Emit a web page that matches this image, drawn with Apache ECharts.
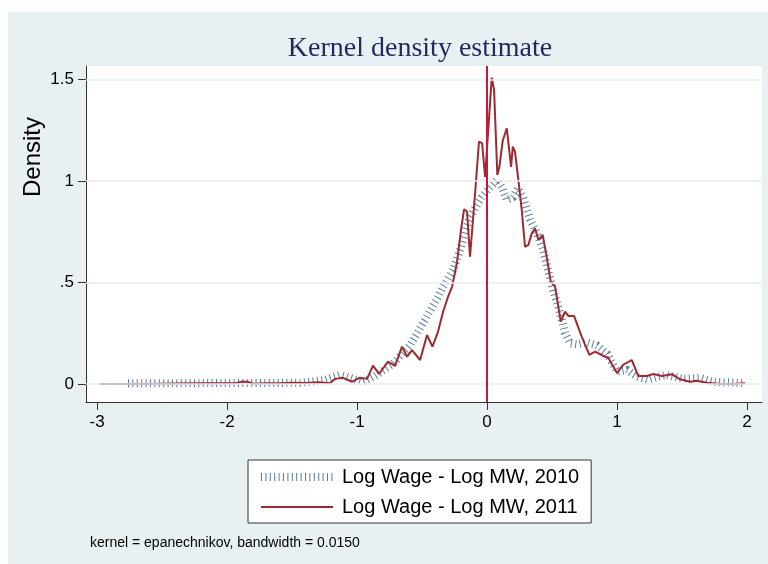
<!DOCTYPE html>
<html>
<head>
<meta charset="utf-8">
<script src="https://cdn.jsdelivr.net/npm/echarts@6/dist/echarts.min.js"></script>
<style>
  html, body { margin: 0; padding: 0; background: #fff; }
  #chart { width: 768px; height: 564px; }
</style>
</head>
<body>
<div id="chart"></div>
<script>
// log wage - log MW, 2010 (hatched line)
const x2010 = [-2.762, -2.5, -2.2, -1.9, -1.6, -1.44, -1.362, -1.246, -1.131, -1.054, -0.954, -0.862,
  -0.723, -0.592, -0.515, -0.438, -0.377, -0.338, -0.262, -0.208, -0.131, -0.041, 0.023, 0.077,
  0.115, 0.152, 0.2, 0.238, 0.277, 0.331, 0.385, 0.431, 0.508, 0.562, 0.6, 0.638, 0.692, 0.769,
  0.846, 0.923, 1.0, 1.077, 1.154, 1.231, 1.308, 1.385, 1.508, 1.638, 1.738, 1.97];
const d2010 = [0.003, 0.004, 0.004, 0.005, 0.005, 0.006, 0.01, 0.02, 0.045, 0.03, 0.01, 0.04,
  0.1, 0.19, 0.275, 0.36, 0.43, 0.48, 0.56, 0.66, 0.824, 0.92, 0.97, 1.005,
  0.97, 0.906, 0.92, 0.965, 0.92, 0.81, 0.74, 0.66, 0.463, 0.35, 0.251, 0.2, 0.195, 0.205,
  0.19, 0.15, 0.06, 0.07, 0.035, 0.02, 0.035, 0.044, 0.025, 0.03, 0.011, 0.005];

// log wage - log MW, 2011 (solid line)
const x2011 = [-2.98, -2.8, -2.6, -2.4, -2.2, -2.0, -1.93, -1.88, -1.84, -1.8, -1.7, -1.6, -1.5,
  -1.4, -1.3, -1.208, -1.169, -1.108, -1.038, -0.977, -0.923, -0.877, -0.831, -0.762, -0.708,
  -0.654, -0.615, -0.577, -0.515, -0.462, -0.42, -0.377, -0.338, -0.3, -0.269, -0.231, -0.2,
  -0.177, -0.154, -0.131, -0.092, -0.062, -0.038, -0.015, 0.036, 0.054, 0.079, 0.095, 0.121,
  0.152, 0.185, 0.198, 0.215, 0.241, 0.267, 0.292, 0.318, 0.344, 0.369, 0.395, 0.428, 0.454,
  0.49, 0.523, 0.567, 0.6, 0.625, 0.669, 0.728, 0.787, 0.831, 0.908, 0.931, 1.0, 1.046, 1.113,
  1.164, 1.228, 1.279, 1.344, 1.421, 1.485, 1.562, 1.613, 1.69, 1.792, 1.892, 1.985];
const d2011 = [0.0, 0.0, 0.0, 0.002, 0.003, 0.004, 0.004, 0.012, 0.01, 0.001, 0.003, 0.004, 0.006,
  0.005, 0.008, 0.003, 0.025, 0.03, 0.011, 0.031, 0.025, 0.09, 0.049, 0.11, 0.089,
  0.184, 0.134, 0.167, 0.118, 0.241, 0.184, 0.258, 0.356, 0.43, 0.48, 0.6, 0.76,
  0.86, 0.85, 0.627, 0.94, 1.194, 1.187, 1.02, 1.51, 1.45, 1.03, 1.07, 1.2,
  1.26, 1.07, 1.17, 1.144, 1.005, 0.857, 0.676, 0.685, 0.742, 0.767, 0.709, 0.734, 0.643,
  0.504, 0.48, 0.307, 0.356, 0.335, 0.335, 0.233, 0.143, 0.159, 0.134, 0.13, 0.053, 0.094, 0.118,
  0.039, 0.039, 0.049, 0.039, 0.048, 0.023, 0.011, 0.016, 0.006, 0.0, 0.0, 0.003];

const xTicks = [-3, -2, -1, 0, 1, 2];
const yTicks = [0, 0.5, 1, 1.5];
const yTickLabels = ["0", ".5", "1", "1.5"];
const names = ["Log Wage - Log MW, 2010", "Log Wage - Log MW, 2011"];

const FONT = "'Liberation Sans', Arial, sans-serif";
const BLUE = "#2b5b8c";
const RED = "#9b2b31";
const hatch = { color: BLUE, width: 8, type: [1, 3.4], cap: "butt", opacity: 0.8 };

const chart = echarts.init(document.querySelector("#chart"));

chart.setOption({
  animation: false,
  backgroundColor: "#e9f0f3",
  graphic: [
    { type: "rect", left: 0, top: 0, shape: { width: 768, height: 12 }, style: { fill: "#fff" } },
    { type: "rect", left: 0, top: 0, shape: { width: 8, height: 564 }, style: { fill: "#fff" } },
    {
      type: "text", x: 420, y: 49,
      style: { text: "Kernel density estimate", font: "28px 'Liberation Serif', 'Times New Roman', serif",
        fill: "#1e2b5c", align: "center", verticalAlign: "middle" }
    },
    {
      type: "text", x: 33, y: 157, rotation: Math.PI / 2,
      style: { text: "Density", font: "24px " + FONT, fill: "#000", align: "center", verticalAlign: "middle" }
    },
    {
      type: "text", x: 90, y: 543,
      style: { text: "kernel = epanechnikov, bandwidth = 0.0150", font: "14px " + FONT,
        fill: "#000", verticalAlign: "middle" }
    }
  ],
  grid: {
    left: 86, right: 6, top: 66, bottom: 162,
    show: true, backgroundColor: "#fff", borderWidth: 0
  },
  legend: {
    data: [
      { name: names[0], lineStyle: hatch },
      { name: names[1], lineStyle: { color: RED, width: 2 } }
    ],
    orient: "vertical",
    left: 248, top: 460,
    backgroundColor: "#fff",
    borderColor: "#333",
    borderWidth: 1,
    borderRadius: 0,
    padding: [7, 12, 6, 9],
    itemGap: 10,
    itemWidth: 72,
    itemHeight: 14,
    itemStyle: { opacity: 0 },
    textStyle: { fontSize: 20, fontFamily: FONT, color: "#000", padding: [0, 0, 0, 4] }
  },
  xAxis: {
    type: "value",
    min: -3.085, max: 2.115,
    axisLine: { onZero: false, lineStyle: { color: "#333", width: 1 } },
    axisTick: { customValues: xTicks, length: 8, lineStyle: { color: "#333" } },
    axisLabel: { customValues: xTicks, fontSize: 17, fontFamily: FONT, color: "#000", margin: 12 },
    splitLine: { show: false }
  },
  yAxis: {
    type: "value",
    min: -0.089, max: 1.567,
    axisLine: { show: true, onZero: false, lineStyle: { color: "#333", width: 1 } },
    axisTick: { show: true, customValues: yTicks, length: 8, lineStyle: { color: "#333" } },
    axisLabel: {
      customValues: yTicks, fontSize: 17, fontFamily: FONT, color: "#000", margin: 12,
      formatter: v => yTickLabels[yTicks.indexOf(v)]
    },
    splitLine: { show: false }
  },
  series: [
    {
      name: "grid",
      type: "line",
      data: [],
      z: 1,
      markLine: {
        silent: true,
        symbol: "none",
        label: { show: false },
        lineStyle: { color: "#e4edf0", width: 1.5, type: "solid" },
        data: yTicks.map(v => ({ yAxis: v }))
      }
    },
    {
      name: names[0],
      type: "line",
      symbol: "none",
      color: BLUE,
      z: 2,
      data: x2010.map((x, i) => [x, d2010[i]]),
      lineStyle: hatch
    },
    {
      name: names[1],
      type: "line",
      symbol: "none",
      color: RED,
      z: 3,
      data: x2011.map((x, i) => [x, d2011[i]]),
      lineStyle: { color: RED, width: 2 },
      markLine: {
        silent: true,
        symbol: "none",
        label: { show: false },
        lineStyle: { color: "#c8183a", width: 2, type: "solid" },
        data: [{ xAxis: 0 }]
      }
    }
  ]
});
</script>
</body>
</html>
